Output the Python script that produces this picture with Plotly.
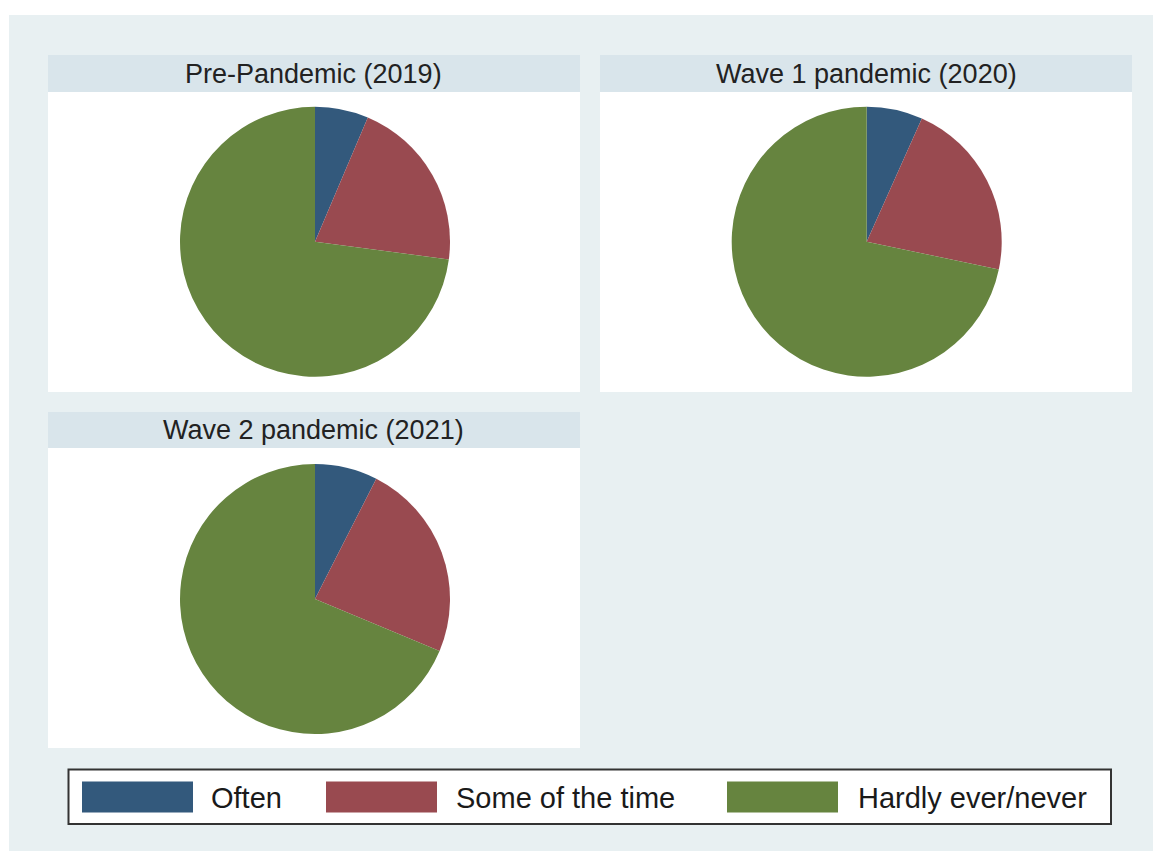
import plotly.graph_objects as go

# ---- data ----
panel_titles = ["Pre-Pandemic (2019)", "Wave 1 pandemic (2020)", "Wave 2 pandemic (2021)"]
categories = ["Often", "Some of the time", "Hardly ever/never"]
often = [6.4, 6.7, 7.5]
some_of_the_time = [20.7, 21.6, 23.8]
hardly_ever = [72.9, 71.7, 68.7]

colors = ["#33597C", "#994A50", "#66843F"]
BG = "#E8F0F2"

W, H = 1153, 851


def fx(px):
    return px / W


def fy(py):
    return 1 - py / H


fig = go.Figure()

# panel geometry in pixels: (left, right, strip_top, strip_bottom, panel_bottom)
panels = [
    (48, 580, 55, 92, 392),
    (600, 1132, 55, 92, 392),
    (48, 580, 412, 448, 748),
]
pie_centers = [(315, 241.7), (866.7, 241.7), (315, 599)]
R = 135

shapes = []
annotations = []

# white outer border on top and left
shapes.append(dict(type="rect", xref="paper", yref="paper", x0=0, x1=1, y0=fy(15), y1=1,
                   fillcolor="#FFFFFF", line=dict(width=0), layer="below"))
shapes.append(dict(type="rect", xref="paper", yref="paper", x0=0, x1=fx(9), y0=0, y1=1,
                   fillcolor="#FFFFFF", line=dict(width=0), layer="below"))

for i, (l, r, st, sb, pb) in enumerate(panels):
    shapes.append(dict(type="rect", xref="paper", yref="paper", x0=fx(l), x1=fx(r), y0=fy(sb), y1=fy(st),
                       fillcolor="#D9E5EB", line=dict(width=0), layer="below"))
    shapes.append(dict(type="rect", xref="paper", yref="paper", x0=fx(l), x1=fx(r), y0=fy(pb), y1=fy(sb),
                       fillcolor="#FFFFFF", line=dict(width=0), layer="below"))
    annotations.append(dict(text=panel_titles[i], xref="paper", yref="paper",
                            x=fx((l + r) / 2), y=fy((st + sb) / 2), xanchor="center", yanchor="middle",
                            showarrow=False, font=dict(size=27, color="#222222",
                                                       family="Liberation Sans, Arial, sans-serif")))
    cx, cy = pie_centers[i]
    fig.add_trace(go.Pie(
        labels=categories,
        values=[often[i], some_of_the_time[i], hardly_ever[i]],
        sort=False, direction="clockwise", rotation=0,
        marker=dict(colors=colors, line=dict(width=0)),
        textinfo="none", hoverinfo="label+percent",
        domain=dict(x=[fx(cx - R), fx(cx + R)], y=[fy(cy + R), fy(cy - R)]),
        showlegend=False,
    ))

# legend box
shapes.append(dict(type="rect", xref="paper", yref="paper", x0=fx(68.5), x1=fx(1111), y0=fy(824), y1=fy(769.5),
                   fillcolor="#FFFFFF", line=dict(width=2, color="#333333")))
patch_x = [82, 326, 727]
text_x = [209, 454, 856]
for k, cat in enumerate(categories):
    shapes.append(dict(type="rect", xref="paper", yref="paper", x0=fx(patch_x[k]), x1=fx(patch_x[k] + 111),
                       y0=fy(812.5), y1=fy(781.5), fillcolor=colors[k], line=dict(width=0)))
    annotations.append(dict(text=cat, xref="paper", yref="paper", x=fx(text_x[k]), y=fy(798),
                            xanchor="left", yanchor="middle", showarrow=False,
                            font=dict(size=29, color="#1a1a1a", family="Liberation Sans, Arial, sans-serif")))

fig.update_layout(
    width=W, height=H,
    margin=dict(l=0, r=0, t=0, b=0),
    paper_bgcolor=BG,
    plot_bgcolor=BG,
    shapes=shapes,
    annotations=annotations,
)

fig.write_html("out.html", config={"displayModeBar": False},
               post_script="document.body.style.margin='0px';document.body.style.background='%s';" % BG)
